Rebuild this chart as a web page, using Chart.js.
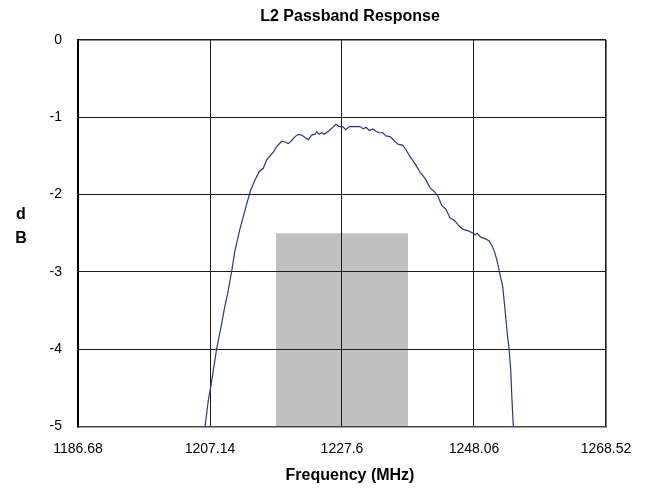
<!DOCTYPE html>
<html>
<head>
<meta charset="utf-8">
<script src="https://cdn.jsdelivr.net/npm/chart.js@4/dist/chart.umd.min.js"></script>
<style>
  html, body { margin: 0; padding: 0; background: #ffffff; }
  #wrap { width: 648px; height: 492px; position: relative; }
</style>
</head>
<body>
<div id="wrap"><canvas id="c" width="648" height="492"></canvas></div>
<script>
// Measured filter response, frequency in MHz and attenuation in dB
const freqMHz = [
  1206.37, 1206.88, 1207.25, 1208.18, 1208.95, 1209.47, 1209.88, 1210.50, 1211.02, 1211.79,
  1212.57, 1212.83, 1213.45, 1214.12, 1214.78, 1215.40, 1215.93, 1216.55, 1216.95, 1217.48,
  1218.25, 1218.77, 1219.28, 1219.80, 1220.32, 1220.83, 1221.35, 1221.87, 1222.38, 1222.90,
  1223.42, 1223.68, 1224.08, 1224.45, 1224.86, 1225.48, 1226.16, 1226.67, 1227.18, 1227.71,
  1228.17, 1228.73, 1229.62, 1230.39, 1230.90, 1231.32, 1231.83, 1232.36, 1232.87, 1233.38,
  1233.91, 1234.42, 1235.04, 1235.55, 1236.33, 1237.01, 1237.52, 1238.14, 1238.92, 1239.69,
  1240.47, 1241.24, 1242.02, 1242.53, 1243.05, 1243.72, 1244.34, 1245.12, 1245.89, 1246.40,
  1247.18, 1247.95, 1248.22, 1248.57, 1249.10, 1249.77, 1250.43, 1250.96, 1251.32, 1251.67,
  1251.98, 1252.51, 1252.87, 1253.22, 1253.49, 1253.75, 1253.95, 1254.15
];
const responseDb = [
  -5.00, -4.66, -4.49, -3.99, -3.67, -3.43, -3.28, -2.99, -2.72, -2.44,
  -2.20, -2.12, -1.94, -1.81, -1.70, -1.66, -1.55, -1.49, -1.45, -1.38,
  -1.31, -1.32, -1.34, -1.30, -1.25, -1.22, -1.23, -1.26, -1.29, -1.23,
  -1.22, -1.19, -1.22, -1.20, -1.22, -1.18, -1.13, -1.09, -1.12, -1.12,
  -1.16, -1.12, -1.12, -1.12, -1.15, -1.13, -1.17, -1.15, -1.18, -1.20,
  -1.20, -1.24, -1.25, -1.29, -1.35, -1.36, -1.42, -1.51, -1.60, -1.71,
  -1.79, -1.91, -1.97, -2.03, -2.14, -2.19, -2.30, -2.34, -2.42, -2.45,
  -2.47, -2.50, -2.52, -2.50, -2.55, -2.57, -2.60, -2.68, -2.76, -2.87,
  -2.99, -3.19, -3.49, -3.80, -3.99, -4.27, -4.66, -5.00
];

// Shaded band: L2 centre 1227.6 MHz +/- 10.23 MHz, drawn up to -2.5 dB
const bandEdgesMHz = [1217.37, 1237.83];
const bandLevelDb = -2.5;

// Axis ticks
const xTickValues = [1186.68, 1207.14, 1227.6, 1248.06, 1268.52];
const yTickValues = [0, -1, -2, -3, -4, -5];

const tickFont = { family: "'Liberation Sans', Arial, sans-serif", size: 14 };

// Title and axis captions: heading, stacked "d" / "B" beside the value axis, frequency caption below
const chartCaptions = {
  id: 'chartCaptions',
  afterDraw(chart) {
    const ctx = chart.ctx;
    ctx.save();
    ctx.font = "bold 16px 'Liberation Sans', Arial, sans-serif";
    ctx.fillStyle = '#000';
    ctx.textAlign = 'center';
    ctx.textBaseline = 'middle';
    ctx.fillText('L2 Passband Response', 350, 16.5);
    ctx.fillText('d', 21, 215);
    ctx.fillText('B', 21, 239);
    ctx.fillText('Frequency (MHz)', 350, 476);
    ctx.restore();
  }
};

new Chart(document.getElementById('c'), {
  type: 'scatter',
  data: {
    datasets: [
      {
        label: 'Passband',
        data: bandEdgesMHz.map(f => ({ x: f, y: bandLevelDb })),
        showLine: true,
        borderWidth: 0,
        borderColor: 'rgba(0,0,0,0)',
        backgroundColor: '#c0c0c0',
        pointRadius: 0,
        fill: 'start',
        tension: 0
      },
      {
        label: 'Response',
        data: freqMHz.map((f, i) => ({ x: f, y: responseDb[i] })),
        showLine: true,
        borderColor: '#27368c',
        borderWidth: 1.2,
        pointRadius: 0,
        fill: false,
        tension: 0
      }
    ]
  },
  options: {
    responsive: false,
    animation: false,
    events: [],
    layout: { padding: { left: 0, right: 42, top: 40, bottom: 0 } },
    plugins: {
      legend: { display: false },
      tooltip: { enabled: false },
      filler: { drawTime: 'beforeDraw' },
      title: { display: false }
    },
    scales: {
      x: {
        type: 'linear',
        min: xTickValues[0],
        max: xTickValues[xTickValues.length - 1],
        afterBuildTicks: s => { s.ticks = xTickValues.map(v => ({ value: v })); },
        afterFit: s => { s.height = 65.5; },
        ticks: {
          color: '#000',
          font: tickFont,
          padding: 14,
          maxRotation: 0,
          autoSkip: false,
          callback: v => String(v)
        },
        grid: {
          drawTicks: false,
          color: '#1a1a1a',
          lineWidth: ctx => (ctx.index === xTickValues.length - 1 ? 1.6 : 1)
        },
        border: { display: true, color: '#444', width: 1.6 }
      },
      y: {
        type: 'linear',
        min: -5,
        max: 0,
        afterBuildTicks: s => { s.ticks = yTickValues.map(v => ({ value: v })); },
        afterFit: s => { s.width = 78; },
        ticks: {
          color: '#000',
          font: tickFont,
          padding: 16,
          callback: v => String(v)
        },
        grid: {
          drawTicks: false,
          color: '#1a1a1a',
          lineWidth: ctx => (ctx.tick && ctx.tick.value === 0 ? 1.6 : 1)
        },
        border: { display: true, color: '#000', width: 2 }
      }
    }
  },
  plugins: [chartCaptions]
});
</script>
</body>
</html>
